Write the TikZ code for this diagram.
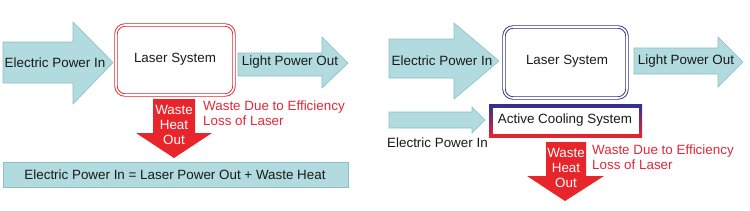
\documentclass[tikz,border=0pt]{standalone}
\usepackage{fontspec}
\setmainfont{Liberation Sans}
\definecolor{cyanfill}{HTML}{B1DBDE}
\definecolor{cyanline}{HTML}{8CBFC3}
\definecolor{heatred}{HTML}{E8252B}
\definecolor{txtred}{HTML}{E0293A}
\definecolor{lblue}{HTML}{2E3192}
\definecolor{txt}{HTML}{1A1A1A}
\tikzset{
  cyanarrow/.style={fill=cyanfill,draw=cyanline,line width=0.6pt,line join=miter},
  heatarrow/.style={fill=heatred,draw=none},
  lbl/.style={font=\fontsize{13.4}{15}\selectfont,text=txt,inner sep=0pt},
  heatlbl/.style={font=\fontsize{13.4}{15.3}\selectfont,text=white,inner sep=0pt,align=center},
  redlbl/.style={font=\fontsize{13.4}{15}\selectfont,text=txtred,inner sep=0pt,align=left,anchor=north west},
  laserbox/.style={draw=#1,line width=0.9pt,double=white,double distance=1.6pt,rounded corners=9pt,fill=white}
}
\begin{document}
\begin{tikzpicture}[x=1pt,y=-1pt]
\useasboundingbox (0,0) rectangle (750,210);
\fill[white] (0,0) rectangle (750,210);

% ---------- left panel ----------
\draw[cyanarrow] (3,42) -- (73,42) -- (73,22) -- (113,62.5) -- (73,104) -- (73,83) -- (3,83) -- cycle;
\node[lbl] (inL) at (55,62.5) {Electric Power In};
\draw[laserbox=heatred] (116,25) rectangle (234,95);
\node[lbl] (laserL) at (175,59) {Laser System};
\draw[cyanarrow] (238,53) -- (322,53) -- (322,37) -- (348,63) -- (322,88) -- (322,76) -- (238,76) -- cycle;
\node[lbl] (outL) at (290,62.5) {Light Power Out};
\fill[heatarrow] (153,99) -- (195,99) -- (195,133) -- (212,133) -- (174,158) -- (136,133) -- (153,133) -- cycle;
\node[heatlbl] (heatL) at (174,125) {Waste\\[0pt]Heat\\[0pt]Out};
\node[redlbl] (wasteL) at (203,101) {Waste Due to Efficiency\\Loss of Laser};
\draw[fill=cyanfill,draw=cyanline,line width=0.8pt] (3,162) rectangle (348,187);
\node[lbl] (eqL) at (175,174.5) {Electric Power In = Laser Power Out + Waste Heat};

% ---------- right panel ----------
\draw[cyanarrow] (389,39) -- (454,39) -- (454,23) -- (499,61) -- (454,99) -- (454,78) -- (389,78) -- cycle;
\node[lbl] (inR) at (442,61) {Electric Power In};
\draw[laserbox=lblue] (504,27) rectangle (627,98);
\node[lbl] (laserR) at (567,61.5) {Laser System};
\draw[cyanarrow] (634,48) -- (718,48) -- (718,37) -- (743,62) -- (718,87) -- (718,74) -- (634,74) -- cycle;
\node[lbl] (outR) at (686,61) {Light Power Out};
\shade[top color=lblue,bottom color=heatred] (489,104) rectangle (642,137);
\fill[white] (492.5,107.5) rectangle (638.5,133.5);
\node[lbl] (coolR) at (565,120.5) {Active Cooling System};
\draw[cyanarrow] (389,112) -- (472,112) -- (472,107) -- (485,120) -- (472,133) -- (472,128) -- (389,128) -- cycle;
\node[lbl,anchor=west] (in2R) at (387,143) {Electric Power In};
\fill[heatarrow] (546,142) -- (586,142) -- (586,176) -- (604,176) -- (565,201) -- (527,176) -- (546,176) -- cycle;
\node[heatlbl] (heatR) at (566,168) {Waste\\[0pt]Heat\\[0pt]Out};
\node[redlbl] (wasteR) at (592,145) {Waste Due to Efficiency\\Loss of Laser};
\end{tikzpicture}
\end{document}
